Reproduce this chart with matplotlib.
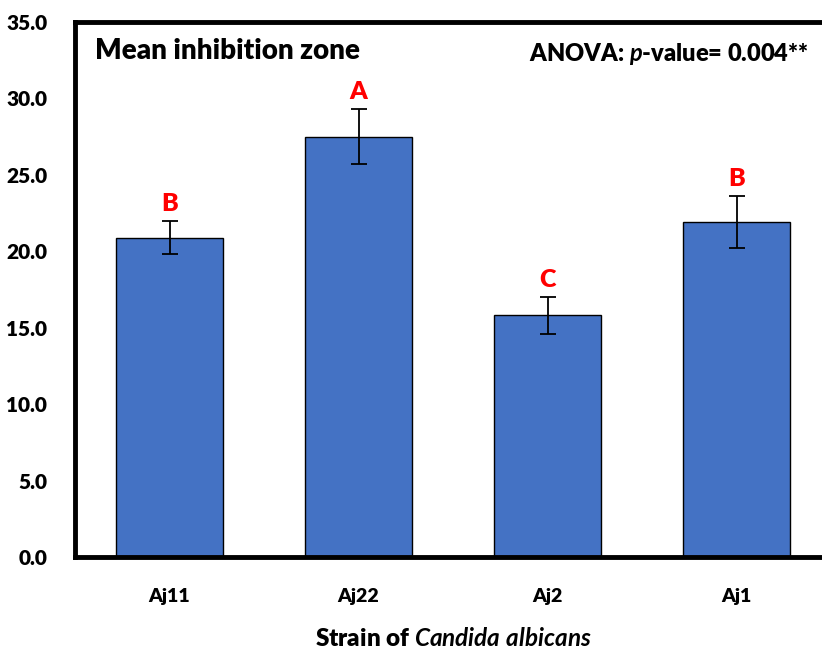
import matplotlib.pyplot as plt
import numpy as np

strains = ['Aj11', 'Aj22', 'Aj2', 'Aj1']
means = [20.9, 27.5, 15.8, 21.9]
errors = [1.1, 1.8, 1.2, 1.7]
letters = ['B', 'A', 'C', 'B']

plt.rcParams['font.family'] = ['Lato', 'DejaVu Sans']
plt.rcParams['mathtext.fontset'] = 'custom'
plt.rcParams['mathtext.rm'] = 'Lato:bold'
plt.rcParams['mathtext.bf'] = 'Lato:bold'
plt.rcParams['mathtext.it'] = 'Lato:italic:bold'
plt.rcParams['mathtext.bfit'] = 'Lato:italic:bold'

fig = plt.figure(figsize=(8.22, 6.52), dpi=100)
ax = fig.add_axes([75 / 822, 95 / 652, 756 / 822, 535 / 652])

x = np.arange(len(strains))
ax.bar(x, means, width=0.57, color='#4472C4', edgecolor='black', linewidth=1.0,
       yerr=errors, error_kw=dict(ecolor='black', elinewidth=1.3, capsize=6, capthick=1.3))

# significance letters
for i in range(len(strains)):
    ax.text(x[i], means[i] + errors[i] + 0.4, letters[i], ha='center', va='bottom',
            color='red', fontsize=18, fontweight='heavy')

ax.set_xlim(-0.5, 3.5)
ax.set_ylim(0, 35)
ax.set_yticks(np.arange(0, 35.1, 5))
ax.set_yticklabels([f'{v:.1f}' for v in np.arange(0, 35.1, 5)])
ax.set_xticks(x)
ax.set_xticklabels(strains)
ax.tick_params(axis='both', length=0)
ax.tick_params(axis='y', pad=20, labelsize=15)
ax.tick_params(axis='x', pad=22, labelsize=14)
for lab in ax.get_xticklabels() + ax.get_yticklabels():
    lab.set_fontweight('heavy')

for s in ['left', 'top', 'bottom']:
    ax.spines[s].set_linewidth(3.5)
ax.spines['right'].set_visible(False)

ax.text(0.027, 0.945, 'Mean inhibition zone', transform=ax.transAxes,
        fontsize=20, fontweight='heavy', va='center', ha='left')
ax.text(0.97, 0.94, r'ANOVA: $\mathbfit{p}$-value= 0.004**', transform=ax.transAxes,
        fontsize=17, fontweight='heavy', va='center', ha='right')

ax.set_xlabel(r'Strain of $\mathbfit{Candida\ albicans}$', fontsize=17.5, fontweight='heavy', labelpad=16)

fig.savefig('out.png', dpi=100)
